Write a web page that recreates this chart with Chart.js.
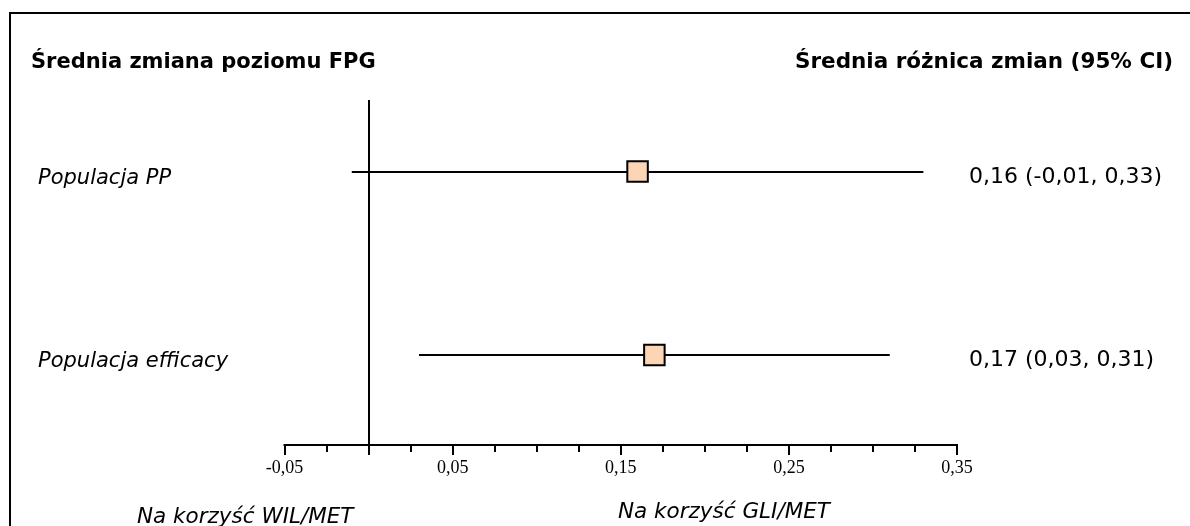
<!DOCTYPE html>
<html>
<head>
<meta charset="utf-8">
<script src="https://cdn.jsdelivr.net/npm/chart.js@4.4.1/dist/chart.umd.min.js"></script>
<style>
  html, body { margin: 0; padding: 0; background: #fff; }
  #wrap { width: 1190px; height: 526px; }
</style>
</head>
<body>
<div id="wrap"><canvas id="forest" width="1190" height="526"></canvas></div>
<script>
// data
const groups = ['Populacja PP', 'Populacja efficacy'];
const means = [0.16, 0.17];
const lower = [-0.01, 0.03];
const upper = [0.33, 0.31];
const tickValues = [-0.05, 0.05, 0.15, 0.25, 0.35];
const tickLabels = ['-0,05', '0,05', '0,15', '0,25', '0,35'];
const minorStep = 0.025;
const leftTitle = 'Średnia zmiana poziomu FPG';
const rightTitle = 'Średnia różnica zmian (95% CI)';
const favourLeft = 'Na korzyść WIL/MET';
const favourRight = 'Na korzyść GLI/MET';

function fmt(v) {
  return v.toFixed(2).replace('.', ',');
}

const sans = '"DejaVu Sans", Verdana, sans-serif';

const forestPlugin = {
  id: 'forest',
  beforeDraw(chart) {
    const ctx = chart.ctx;
    ctx.save();
    ctx.fillStyle = '#fff';
    ctx.fillRect(0, 0, chart.width, chart.height);
    // outer frame (runs off the right and bottom edge)
    ctx.strokeStyle = '#000';
    ctx.lineWidth = 2;
    ctx.strokeRect(10, 13, 1400, 700);
    ctx.restore();
  },
  beforeDatasetsDraw(chart) {
    const ctx = chart.ctx;
    const xs = chart.scales.x, ys = chart.scales.y;
    const area = chart.chartArea;
    ctx.save();
    ctx.strokeStyle = '#000';
    ctx.lineWidth = 2;
    ctx.lineCap = 'butt';

    // axis line
    const ax = area.bottom;
    ctx.beginPath();
    ctx.moveTo(xs.getPixelForValue(tickValues[0]) - 1, ax);
    ctx.lineTo(xs.getPixelForValue(tickValues[tickValues.length - 1]) + 1, ax);
    ctx.stroke();

    // ticks
    for (let v = xs.min; v <= xs.max + 1e-9; v += minorStep) {
      const major = tickValues.some(t => Math.abs(t - v) < 1e-6);
      const px = Math.round(xs.getPixelForValue(v));
      ctx.beginPath();
      ctx.moveTo(px, ax);
      ctx.lineTo(px, ax + (major ? 10 : 7));
      ctx.stroke();
    }

    // zero line
    const zx = Math.round(xs.getPixelForValue(0));
    ctx.beginPath();
    ctx.moveTo(zx, area.top);
    ctx.lineTo(zx, ax + 10);
    ctx.stroke();

    // confidence intervals
    groups.forEach((g, i) => {
      const py = Math.round(ys.getPixelForValue(i + 1));
      ctx.beginPath();
      ctx.moveTo(xs.getPixelForValue(lower[i]), py);
      ctx.lineTo(xs.getPixelForValue(upper[i]), py);
      ctx.stroke();
    });
    ctx.restore();
  },
  afterDatasetsDraw(chart) {
    const ctx = chart.ctx;
    const xs = chart.scales.x, ys = chart.scales.y;
    const area = chart.chartArea;
    ctx.save();
    ctx.fillStyle = '#000';
    ctx.textBaseline = 'alphabetic';

    ctx.font = 'bold 21px ' + sans;
    ctx.textAlign = 'left';
    ctx.fillText(leftTitle, 31, 68);
    ctx.font = 'bold 21.5px ' + sans;
    ctx.textAlign = 'right';
    ctx.fillText(rightTitle, 1173, 68);

    groups.forEach((g, i) => {
      const py = ys.getPixelForValue(i + 1);
      ctx.font = 'italic 21px ' + sans;
      ctx.textAlign = 'left';
      ctx.fillText(g, 38, py + 12);
      ctx.font = '22px ' + sans;
      ctx.fillText(fmt(means[i]) + ' (' + fmt(lower[i]) + ', ' + fmt(upper[i]) + ')', 969, py + 11);
    });

    ctx.font = '18px "Liberation Serif", "Times New Roman", serif';
    ctx.textAlign = 'center';
    tickValues.forEach((v, i) => {
      ctx.fillText(tickLabels[i], xs.getPixelForValue(v), area.bottom + 28);
    });

    ctx.font = 'italic 21.5px ' + sans;
    ctx.textAlign = 'left';
    ctx.fillText(favourLeft, 137, 523);
    ctx.fillText(favourRight, 618, 518);
    ctx.restore();
  }
};

new Chart(document.getElementById('forest'), {
  type: 'scatter',
  data: {
    datasets: [{
      data: means.map((m, i) => ({ x: m, y: i + 1 })),
      pointStyle: 'rect',
      pointRadius: 14.5,
      pointHoverRadius: 14.5,
      backgroundColor: '#FCD5B4',
      borderColor: '#000',
      borderWidth: 2,
      clip: false
    }]
  },
  options: {
    responsive: false,
    animation: false,
    layout: { padding: { left: 284.5, right: 233, top: 100, bottom: 81 } },
    plugins: { legend: { display: false }, tooltip: { enabled: false } },
    scales: {
      x: { type: 'linear', min: -0.05, max: 0.35, display: false },
      y: { type: 'linear', min: 0.61, max: 2.49, reverse: true, display: false }
    }
  },
  plugins: [forestPlugin]
});
</script>
</body>
</html>
